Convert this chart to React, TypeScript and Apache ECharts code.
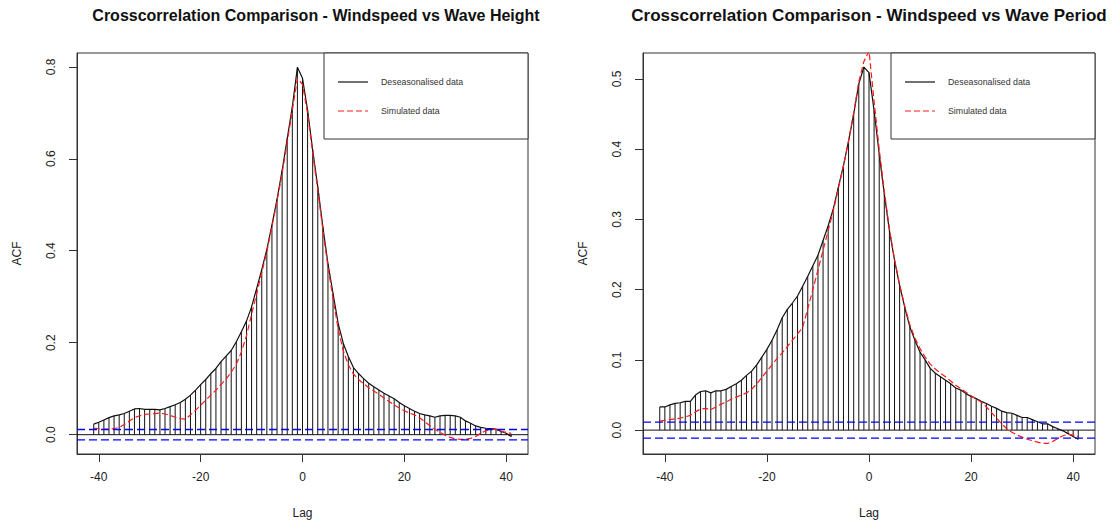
import React, { useEffect, useRef } from "react";
import * as echarts from "echarts";

const lags = [
  -41, -40, -39, -38, -37, -36, -35, -34, -33, -32, -31, -30, -29, -28, -27, -26, -25, -24, -23, -22, -21,
  -20, -19, -18, -17, -16, -15, -14, -13, -12, -11, -10, -9, -8, -7, -6, -5, -4, -3, -2, -1,
  0, 1, 2, 3, 4, 5, 6, 7, 8, 9, 10, 11, 12, 13, 14, 15, 16, 17, 18, 19, 20,
  21, 22, 23, 24, 25, 26, 27, 28, 29, 30, 31, 32, 33, 34, 35, 36, 37, 38, 39, 40, 41,
];

// Windspeed vs Wave Height
const heightDeseasonalised = [
  0.023, 0.027, 0.032, 0.037, 0.041, 0.043, 0.046, 0.051, 0.056, 0.057, 0.055, 0.055, 0.055, 0.054, 0.057, 0.061, 0.065, 0.070, 0.077, 0.086, 0.097,
  0.109, 0.120, 0.133, 0.144, 0.159, 0.171, 0.183, 0.202, 0.224, 0.247, 0.278, 0.318, 0.359, 0.403, 0.456, 0.512, 0.575, 0.644, 0.713, 0.799,
  0.775, 0.706, 0.619, 0.539, 0.452, 0.372, 0.307, 0.242, 0.199, 0.170, 0.146, 0.133, 0.122, 0.112, 0.104, 0.097, 0.090, 0.084, 0.078, 0.070, 0.063,
  0.057, 0.051, 0.046, 0.043, 0.041, 0.038, 0.041, 0.042, 0.042, 0.041, 0.038, 0.030, 0.025, 0.019, 0.016, 0.014, 0.013, 0.012, 0.007, 0.003, -0.004,
];
const heightSimulated = [
  0.014, 0.013, 0.012, 0.012, 0.013, 0.016, 0.022, 0.030, 0.037, 0.041, 0.044, 0.045, 0.046, 0.047, 0.045, 0.042, 0.038, 0.035, 0.034, 0.043, 0.053,
  0.064, 0.075, 0.086, 0.097, 0.109, 0.121, 0.136, 0.153, 0.180, 0.215, 0.262, 0.307, 0.352, 0.398, 0.452, 0.508, 0.568, 0.636, 0.705, 0.775,
  0.762, 0.698, 0.612, 0.532, 0.445, 0.365, 0.296, 0.230, 0.183, 0.152, 0.132, 0.120, 0.111, 0.102, 0.095, 0.088, 0.080, 0.072, 0.065, 0.058, 0.052,
  0.047, 0.043, 0.037, 0.028, 0.020, 0.012, 0.005, -0.001, -0.006, -0.009, -0.010, -0.010, -0.008, -0.004, 0.003, 0.009, 0.012, 0.011, 0.008, 0.005, 0.003,
];

// Windspeed vs Wave Period
const periodDeseasonalised = [
  0.033, 0.033, 0.036, 0.038, 0.039, 0.041, 0.041, 0.050, 0.055, 0.056, 0.053, 0.056, 0.056, 0.058, 0.062, 0.066, 0.071, 0.078, 0.084, 0.093, 0.104,
  0.115, 0.128, 0.143, 0.160, 0.172, 0.181, 0.191, 0.205, 0.219, 0.234, 0.249, 0.270, 0.291, 0.315, 0.346, 0.377, 0.412, 0.450, 0.493, 0.517,
  0.509, 0.455, 0.393, 0.336, 0.284, 0.242, 0.206, 0.175, 0.147, 0.128, 0.111, 0.100, 0.088, 0.081, 0.076, 0.071, 0.066, 0.060, 0.057, 0.052, 0.048,
  0.045, 0.041, 0.038, 0.034, 0.031, 0.027, 0.025, 0.024, 0.021, 0.018, 0.018, 0.015, 0.012, 0.009, 0.009, 0.005, 0.002, -0.001, -0.005, -0.009, -0.013,
];
const periodSimulated = [
  0.013, 0.014, 0.015, 0.016, 0.017, 0.019, 0.021, 0.026, 0.030, 0.031, 0.029, 0.033, 0.037, 0.040, 0.044, 0.047, 0.050, 0.053, 0.058, 0.066, 0.075,
  0.084, 0.093, 0.102, 0.110, 0.119, 0.128, 0.137, 0.146, 0.173, 0.200, 0.228, 0.256, 0.284, 0.312, 0.344, 0.376, 0.412, 0.452, 0.496, 0.525,
  0.540, 0.468, 0.400, 0.340, 0.287, 0.243, 0.207, 0.177, 0.150, 0.131, 0.116, 0.104, 0.094, 0.087, 0.081, 0.076, 0.070, 0.064, 0.059, 0.054, 0.049,
  0.044, 0.040, 0.033, 0.025, 0.017, 0.009, 0.002, -0.003, -0.007, -0.010, -0.013, -0.015, -0.017, -0.019, -0.019, -0.016, -0.012, -0.008, -0.006, -0.007, -0.009,
];

const confidenceBound = 0.0113;
const xMin = -44.28;
const xMax = 44.28;
const xTicks = [-40, -20, 0, 20, 40];
const heightYTicks = [0, 0.2, 0.4, 0.6, 0.8];
const periodYTicks = [0, 0.1, 0.2, 0.3, 0.4, 0.5];
const titles = [
  "Crosscorrelation Comparison - Windspeed vs Wave Height",
  "Crosscorrelation Comparison - Windspeed vs Wave Period",
];
const legendNames = ["Deseasonalised data", "Simulated data"];

const FONT = "'Liberation Sans', Arial, sans-serif";
const INK = "#222";

export default function App() {
  const ref = useRef<HTMLDivElement>(null);

  useEffect(() => {
    if (!ref.current) return;
    const chart = echarts.init(ref.current, undefined, { renderer: "svg" });

    const pairs = (vals: number[]) => lags.map((l, i) => [l, vals[i]]);
    const hline = (v: number) => [[xMin, v], [xMax, v]];

    const grids = [
      { left: 77, top: 53, width: 451, height: 401 },
      { left: 643, top: 53, width: 452, height: 401 },
    ];
    const titleLayout = [
      { x: 316, size: 16 },
      { x: 869, size: 17 },
    ];
    const yRanges = [
      { min: -0.042, max: 0.83, ticks: heightYTicks },
      { min: -0.034, max: 0.537, ticks: periodYTicks },
    ];
    const desData = [heightDeseasonalised, periodDeseasonalised];
    const simData = [heightSimulated, periodSimulated];

    const xAxis = grids.map((_, i) => ({
      type: "value",
      gridIndex: i,
      min: xMin,
      max: xMax,
      name: "Lag",
      nameLocation: "middle",
      nameGap: 53,
      nameTextStyle: { fontFamily: FONT, fontSize: 12, color: INK },
      axisLine: { show: true, onZero: false, lineStyle: { color: "#333" } },
      axisTick: { show: true, inside: false, length: 8, customValues: xTicks, lineStyle: { color: "#333" } },
      axisLabel: {
        customValues: xTicks,
        margin: 17,
        fontFamily: FONT,
        fontSize: 12,
        color: INK,
      },
      splitLine: { show: false },
    }));

    const yAxis = grids.map((_, i) => ({
      type: "value",
      gridIndex: i,
      min: yRanges[i].min,
      max: yRanges[i].max,
      name: "ACF",
      nameLocation: "middle",
      nameGap: 54,
      nameTextStyle: { fontFamily: FONT, fontSize: 12, color: INK },
      axisLine: { show: true, onZero: false, lineStyle: { color: "#333" } },
      axisTick: { show: true, inside: false, length: 8, customValues: yRanges[i].ticks, lineStyle: { color: "#333" } },
      axisLabel: {
        customValues: yRanges[i].ticks,
        rotate: 90,
        margin: 20,
        fontFamily: FONT,
        fontSize: 12,
        color: INK,
        formatter: (v: number) => v.toFixed(1),
      },
      splitLine: { show: false },
    }));

    const series: any[] = [];
    grids.forEach((_, i) => {
      series.push({
        type: "custom",
        name: legendNames[0] + " bars",
        xAxisIndex: i,
        yAxisIndex: i,
        data: pairs(desData[i]),
        encode: { x: 0, y: 1 },
        clip: true,
        renderItem: (params: any, api: any) => {
          const x = api.value(0);
          const y = api.value(1);
          const p0 = api.coord([x, 0]);
          const p1 = api.coord([x, y]);
          return {
            type: "line",
            shape: { x1: p0[0], y1: p0[1], x2: p1[0], y2: p1[1] },
            style: { stroke: "#111", lineWidth: 1 },
          };
        },
        z: 2,
      });
      series.push({
        type: "line",
        name: "zero",
        xAxisIndex: i,
        yAxisIndex: i,
        data: hline(0),
        showSymbol: false,
        symbol: "none",
        lineStyle: { color: "#111", width: 1 },
        itemStyle: { color: "#111" },
        z: 2,
      });
      [confidenceBound, -confidenceBound].forEach((b, k) => {
        series.push({
          type: "line",
          name: k === 0 ? "upper bound" : "lower bound",
          xAxisIndex: i,
          yAxisIndex: i,
          data: hline(b),
          showSymbol: false,
          symbol: "none",
          lineStyle: { color: "#0000ff", width: 1.3, type: [8, 4] },
          itemStyle: { color: "#0000ff" },
          z: 5,
        });
      });
      series.push({
        type: "line",
        name: legendNames[0],
        xAxisIndex: i,
        yAxisIndex: i,
        data: pairs(desData[i]),
        showSymbol: false,
        symbol: "none",
        lineStyle: { color: "#111", width: 1.2 },
        itemStyle: { color: "#111" },
        clip: true,
        z: 3,
      });
      series.push({
        type: "line",
        name: legendNames[1],
        xAxisIndex: i,
        yAxisIndex: i,
        data: pairs(simData[i]),
        showSymbol: false,
        symbol: "none",
        lineStyle: { color: "#ff1a1a", width: 1.2, type: [6, 3] },
        itemStyle: { color: "#ff1a1a" },
        clip: true,
        z: 4,
      });
    });

    const graphic: any[] = [];
    grids.forEach((g, i) => {
      graphic.push({
        type: "text",
        x: titleLayout[i].x,
        y: 15,
        style: {
          text: titles[i],
          textAlign: "center",
          textVerticalAlign: "middle",
          font: `bold ${titleLayout[i].size}px ${FONT}`,
          fill: "#111",
        },
      });
      const bx = g.left + g.width - 204;
      graphic.push({
        type: "rect",
        shape: { x: bx, y: 53, width: 204, height: 86 },
        style: { fill: "#fff", stroke: "#333", lineWidth: 1 },
        z: 10,
      });
      graphic.push({
        type: "line",
        shape: { x1: bx + 14, y1: 82, x2: bx + 44, y2: 82 },
        style: { stroke: "#111", lineWidth: 1.2 },
        z: 11,
      });
      graphic.push({
        type: "line",
        shape: { x1: bx + 14, y1: 111, x2: bx + 44, y2: 111 },
        style: { stroke: "#ff1a1a", lineWidth: 1.2, lineDash: [6, 3] },
        z: 11,
      });
      graphic.push({
        type: "text",
        x: bx + 57,
        y: 82,
        style: { text: legendNames[0], textVerticalAlign: "middle", font: `8.8px ${FONT}`, fill: "#333" },
        z: 11,
      });
      graphic.push({
        type: "text",
        x: bx + 57,
        y: 111,
        style: { text: legendNames[1], textVerticalAlign: "middle", font: `8.8px ${FONT}`, fill: "#333" },
        z: 11,
      });
    });

    chart.setOption({
      animation: false,
      backgroundColor: "#fff",
      grid: grids.map((g) => ({
        ...g,
        show: true,
        borderColor: "#333",
        borderWidth: 1,
        backgroundColor: "transparent",
        containLabel: false,
      })),
      xAxis,
      yAxis,
      series,
      graphic,
    });

    return () => chart.dispose();
  }, []);

  return (
    <div
      ref={ref}
      style={{ position: "fixed", left: 0, top: 0, width: 1115, height: 529 }}
    />
  );
}
